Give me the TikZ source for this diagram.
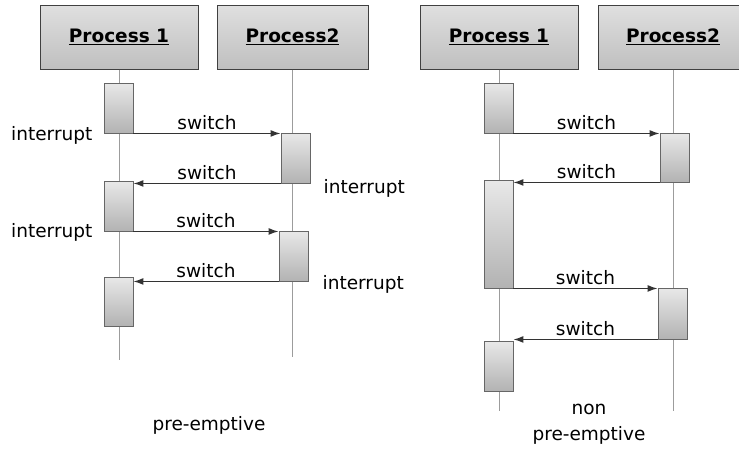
\documentclass[tikz,border=0pt]{standalone}
\usepackage{fontspec}
\setmainfont{DejaVu Sans}
\usetikzlibrary{arrows.meta, positioning}
\definecolor{lifegray}{HTML}{9C9C9C}
\definecolor{msggray}{HTML}{333333}

\begin{document}
\begin{tikzpicture}[x=1pt, y=-1pt,
  proc/.style={draw=black!75, line width=1pt, top color=gray!25, bottom color=gray!50,
               minimum height=64pt, inner sep=0pt, font=\fontsize{18.5}{20}\selectfont\bfseries},
  act/.style={draw=black!60, line width=0.9pt, top color=gray!18, bottom color=gray!60,
              minimum width=29pt, inner sep=0pt},
  life/.style={lifegray, line width=0.8pt},
  msg/.style={-{Latex[length=10pt,width=7pt]}, line width=1.3pt, msggray},
  lbl/.style={font=\fontsize{18.5}{26}\selectfont, inner sep=1pt, text=black},
]
  \clip (0,0) rectangle (739,455);
  \fill[white] (0,0) rectangle (739,455);

  % pre-emptive
  \node[proc, minimum width=158pt] (p1L) at (119,37) {\underline{Process 1}};
  \node[proc, minimum width=151pt] (p2L) at (292.5,37) {\underline{Process2}};
  \coordinate (e1L) at (119,360);
  \coordinate (e2L) at (292.5,357);
  \draw[life] (p1L.south) -- (e1L);
  \draw[life] (p2L.south) -- (e2L);

  \node[act, minimum height=50pt] (a1) at (118.5,108) {};
  \node[act, minimum height=50pt] (b1) at (295.5,158) {};
  \node[act, minimum height=50pt] (a2) at (118.5,206) {};
  \node[act, minimum height=50pt] (b2) at (293.5,256) {};
  \node[act, minimum height=49pt] (a3) at (118.5,301.5) {};

  \draw[msg] (a1.south east) -- (a1.south east -| b1.west) node[lbl, midway, above=2pt] (s1) {switch};
  \draw[msg] (b1.south west) -- (b1.south west -| a2.east) node[lbl, midway, above=2pt] (s2) {switch};
  \draw[msg] (a2.south east) -- (a2.south east -| b2.west) node[lbl, midway, above=2pt] (s3) {switch};
  \draw[msg] (b2.south west) -- (b2.south west -| a3.east) node[lbl, midway, above=2pt] (s4) {switch};

  \node[lbl, anchor=east] (i1) at ([xshift=-10pt, yshift=-2pt]a1.south west) {interrupt};
  \node[lbl, anchor=east] (i2) at ([xshift=-10pt, yshift=-1pt]a2.south west) {interrupt};
  \node[lbl, anchor=west] (i3) at ([xshift=12pt, yshift=-5pt]b1.south east) {interrupt};
  \node[lbl, anchor=west] (i4) at ([xshift=13pt, yshift=-3pt]b2.south east) {interrupt};

  \node[lbl] (capL) at (209,425) {pre-emptive};

  % non pre-emptive
  \node[proc, minimum width=158pt] (p1R) at (499,37) {\underline{Process 1}};
  \node[proc, minimum width=150pt] (p2R) at (673,37) {\underline{Process2}};
  \coordinate (e1R) at (499,411);
  \coordinate (e2R) at (673,411);
  \draw[life] (p1R.south) -- (e1R);
  \draw[life] (p2R.south) -- (e2R);

  \node[act, minimum height=50pt] (c1) at (498.5,108) {};
  \node[act, minimum height=49pt] (d1) at (674.5,157.5) {};
  \node[act, minimum height=108pt] (c2) at (498.5,234) {};
  \node[act, minimum height=51pt] (d2) at (672.5,313.5) {};
  \node[act, minimum height=50pt] (c3) at (498.5,366) {};

  \draw[msg] (c1.south east) -- (c1.south east -| d1.west) node[lbl, midway, above=2pt] (t1) {switch};
  \draw[msg] (d1.south west) -- (d1.south west -| c2.east) node[lbl, midway, above=2pt] (t2) {switch};
  \draw[msg] (c2.south east) -- (c2.south east -| d2.west) node[lbl, midway, above=2pt] (t3) {switch};
  \draw[msg] (d2.south west) -- (d2.south west -| c3.east) node[lbl, midway, above=2pt] (t4) {switch};

  \node[lbl, align=center] (capR) at (589,424) {non\\pre-emptive};
\end{tikzpicture}
\end{document}
